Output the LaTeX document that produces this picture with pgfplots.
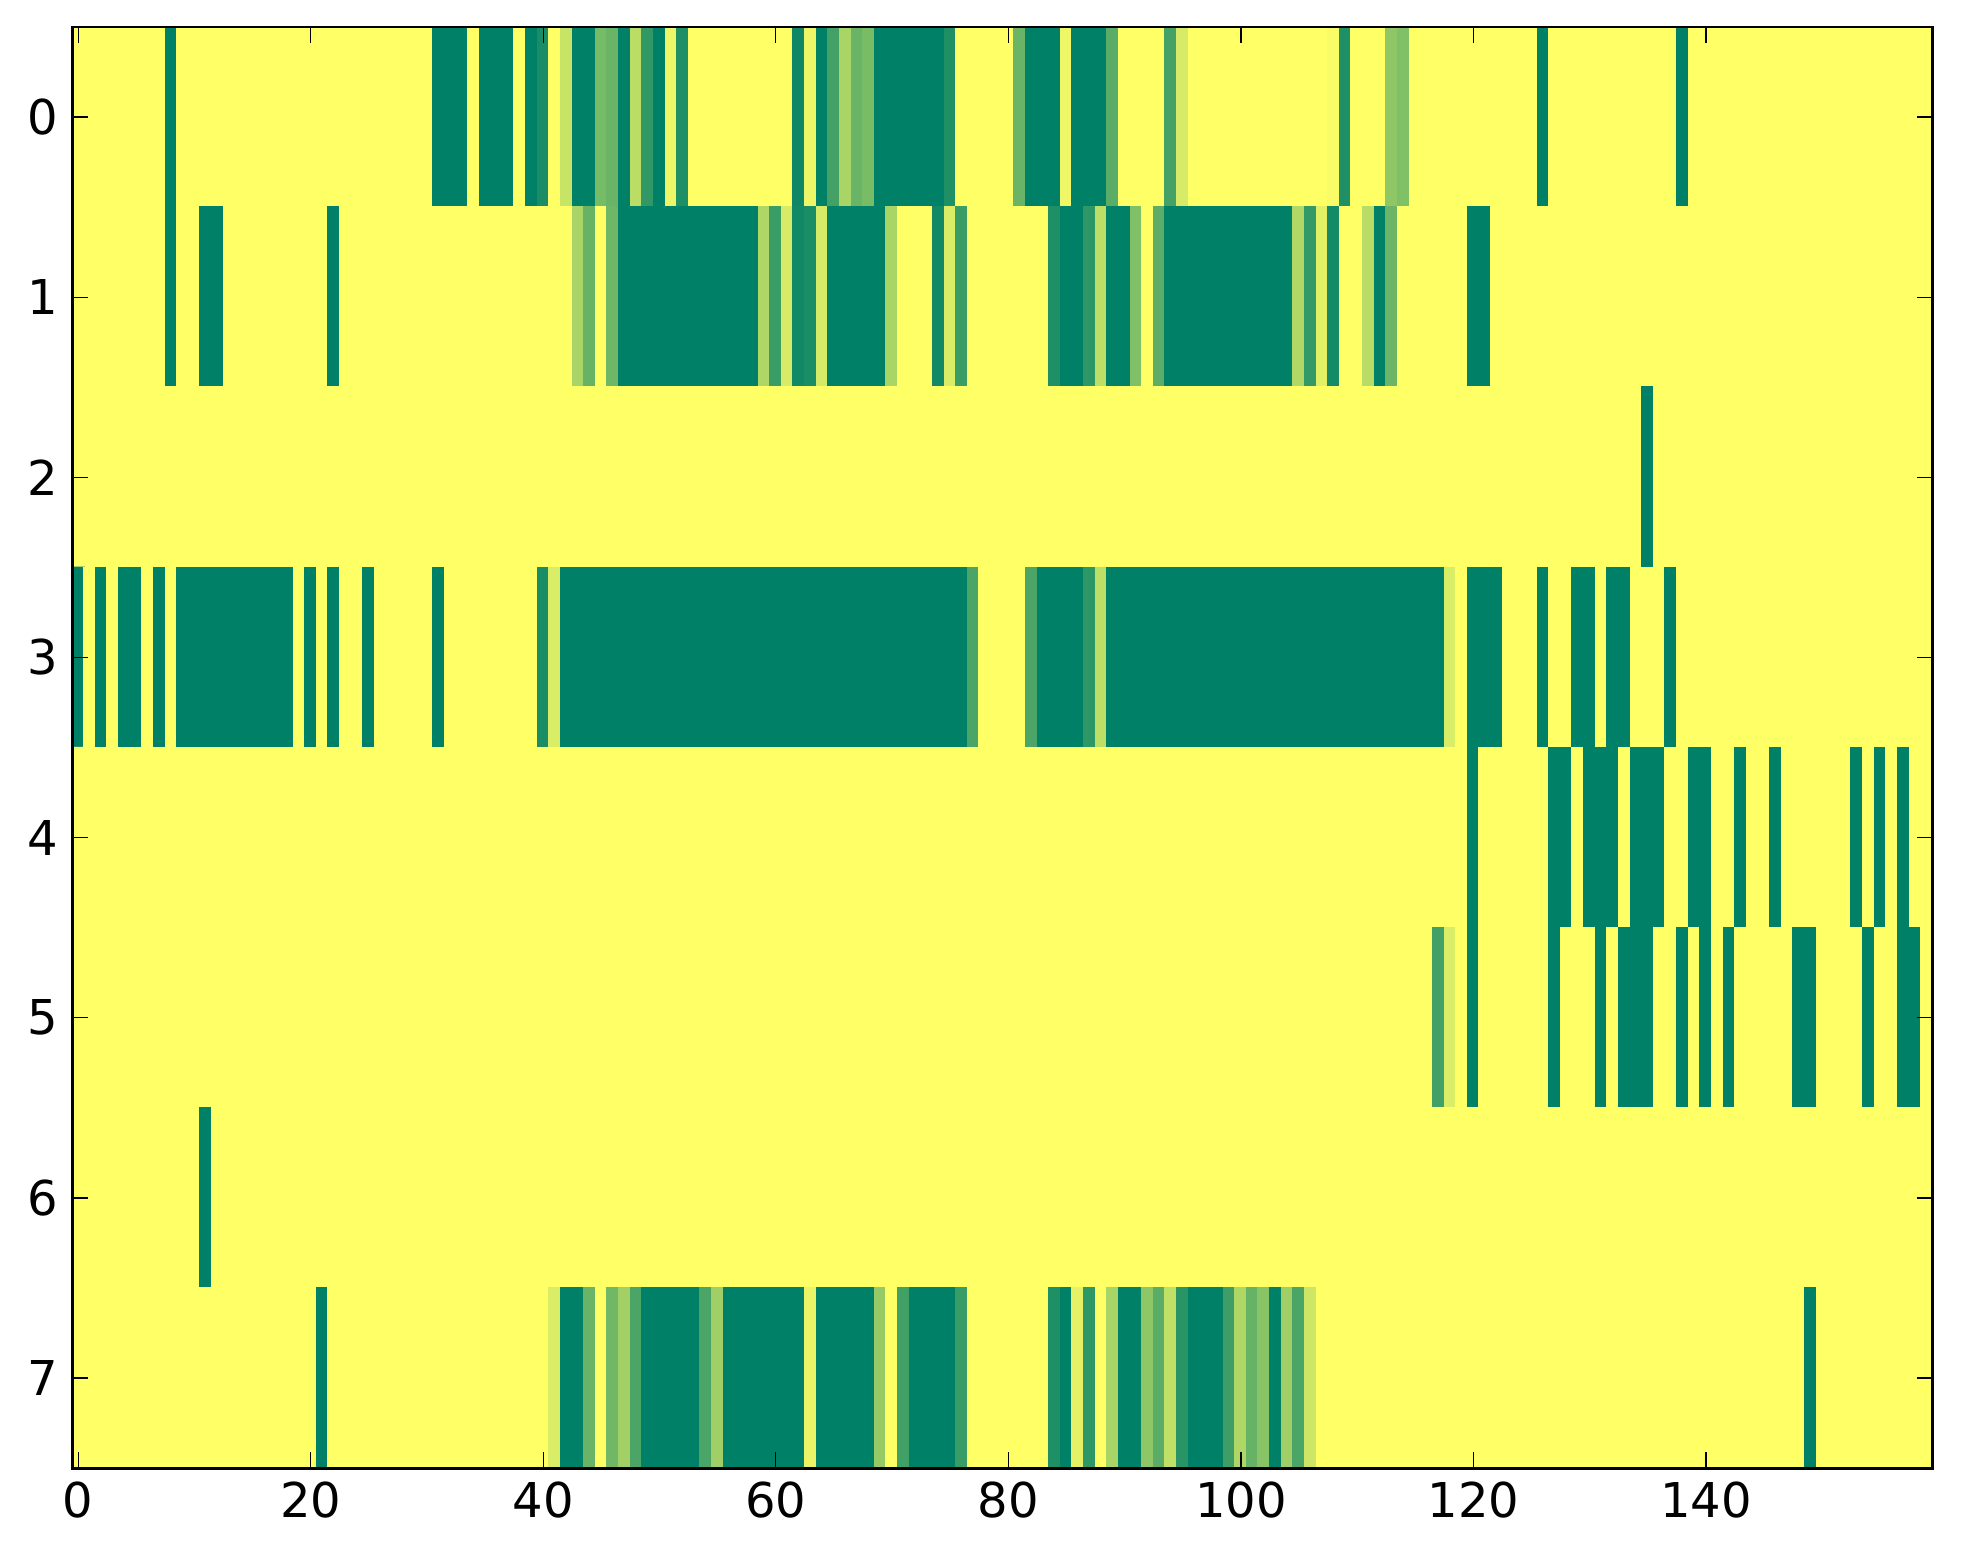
\documentclass[border=0pt]{standalone}
\usepackage{fontspec}
\setmainfont{DejaVu Sans}
\usepackage{pgfplots}
\pgfplotsset{compat=1.18}
\begin{document}
\begin{tikzpicture}
\begin{axis}[
  scale only axis, width=465pt, height=360.25pt,
  xmin=-0.5, xmax=159.5, ymin=-0.5, ymax=7.5, y dir=reverse,
  xtick={0,20,...,140}, ytick={0,...,7},
  tick align=inside, tick pos=both,
  major tick length=4pt,
  every tick/.style={black, line width=0.35pt},
  axis line style={line width=0.7pt},
  ticklabel style={font=\fontsize{12}{14}\selectfont},
  /pgf/number format/assume math mode=true,
  colormap={summer}{rgb=(0,0.5,0.4) rgb=(1,1,0.4)},
  point meta min=0, point meta max=1,
  axis on top,
]
\addplot[matrix plot*, mesh/cols=160, mesh/rows=8, point meta=explicit, empty line=none]
 table[row sep=\\, header=false, x expr={mod(\coordindex,160)}, y expr={floor((\coordindex+0.5)/160)}, meta index=0] {
1\\1\\1\\1\\1\\1\\1\\1\\0\\1\\ 1\\1\\1\\1\\1\\1\\1\\1\\1\\1\\ 1\\1\\1\\1\\1\\1\\1\\1\\1\\1\\ 1\\0\\0\\0\\1\\0\\0\\0\\1\\0\\
0.1\\1\\0.78\\0\\0\\0.46\\0.41\\0\\0.73\\0.19\\ 0\\0.92\\0.12\\1\\1\\1\\1\\1\\1\\1\\ 1\\1\\0.06\\0.92\\0\\0.26\\0.66\\0.41\\0.47\\0\\ 0\\0\\0\\0\\0\\0.12\\1\\1\\1\\1\\
1\\0.41\\0\\0\\0\\0.93\\0\\0\\0\\0.35\\ 1\\1\\1\\1\\0.27\\0.84\\1\\1\\1\\1\\ 1\\1\\1\\1\\1\\1\\1\\1\\0.97\\0.12\\ 1\\1\\1\\0.56\\0.5\\1\\1\\1\\1\\1\\
1\\1\\1\\1\\1\\1\\0\\1\\1\\1\\ 1\\1\\1\\1\\1\\1\\1\\1\\0\\1\\ 1\\1\\1\\1\\1\\1\\1\\1\\1\\1\\ 1\\1\\1\\1\\1\\1\\1\\1\\1\\1\\
1\\1\\1\\1\\1\\1\\1\\1\\0\\1\\ 1\\0\\0\\1\\1\\1\\1\\1\\1\\1\\ 1\\1\\0\\1\\1\\1\\1\\1\\1\\1\\ 1\\1\\1\\1\\1\\1\\1\\1\\1\\1\\
1\\1\\1\\0.66\\0.4\\1\\0.43\\0\\0\\0\\ 0\\0\\0\\0\\0\\0\\0\\0\\0\\0.68\\ 0.23\\0.84\\0.07\\0.1\\0.83\\0\\0\\0\\0\\0\\ 0.66\\1\\1\\1\\0.07\\0.85\\0.23\\1\\1\\1\\
1\\1\\1\\1\\0.12\\0\\0\\0.18\\0.74\\0\\ 0\\0.5\\1\\0.36\\0\\0\\0\\0\\0\\0\\ 0\\0\\0\\0\\0\\0.69\\0.2\\0.88\\0.08\\1\\ 1\\0.72\\0\\0.42\\1\\1\\1\\1\\1\\1\\
0\\0\\1\\1\\1\\1\\1\\1\\1\\1\\ 1\\1\\1\\1\\1\\1\\1\\1\\1\\1\\ 1\\1\\1\\1\\1\\1\\1\\1\\1\\1\\ 1\\1\\1\\1\\1\\1\\1\\1\\1\\1\\
1\\1\\1\\1\\1\\1\\1\\1\\1\\1\\ 1\\1\\1\\1\\1\\1\\1\\1\\1\\1\\ 1\\1\\1\\1\\1\\1\\1\\1\\1\\1\\ 1\\1\\1\\1\\1\\1\\1\\1\\1\\1\\
1\\1\\1\\1\\1\\1\\1\\1\\1\\1\\ 1\\1\\1\\1\\1\\1\\1\\1\\1\\1\\ 1\\1\\1\\1\\1\\1\\1\\1\\1\\1\\ 1\\1\\1\\1\\1\\1\\1\\1\\1\\1\\
1\\1\\1\\1\\1\\1\\1\\1\\1\\1\\ 1\\1\\1\\1\\1\\1\\1\\1\\1\\1\\ 1\\1\\1\\1\\1\\1\\1\\1\\1\\1\\ 1\\1\\1\\1\\1\\1\\1\\1\\1\\1\\
1\\1\\1\\1\\1\\1\\1\\1\\1\\1\\ 1\\1\\1\\1\\1\\0\\1\\1\\1\\1\\ 1\\1\\1\\1\\1\\1\\1\\1\\1\\1\\ 1\\1\\1\\1\\1\\1\\1\\1\\1\\1\\
0\\1\\0\\1\\0\\0\\1\\0\\1\\0\\ 0\\0\\0\\0\\0\\0\\0\\0\\0\\1\\ 0\\1\\0\\1\\1\\0\\1\\1\\1\\1\\ 1\\0\\1\\1\\1\\1\\1\\1\\1\\1\\
0.1\\0.85\\0\\0\\0\\0\\0\\0\\0\\0\\ 0\\0\\0\\0\\0\\0\\0\\0\\0\\0\\ 0\\0\\0\\0\\0\\0\\0\\0\\0\\0\\ 0\\0\\0\\0\\0\\0\\0\\0.29\\1\\1\\
1\\1\\0.29\\0\\0\\0\\0\\0.18\\0.74\\0\\ 0\\0\\0\\0\\0\\0\\0\\0\\0\\0\\ 0\\0\\0\\0\\0\\0\\0\\0\\0\\0\\ 0\\0\\0\\0\\0\\0\\0\\0\\0.85\\1\\
0\\0\\0\\1\\1\\1\\0\\1\\1\\0\\ 0\\1\\0\\0\\1\\1\\1\\0\\1\\1\\ 1\\1\\1\\1\\1\\1\\1\\1\\1\\1\\ 1\\1\\1\\1\\1\\1\\1\\1\\1\\1\\
1\\1\\1\\1\\1\\1\\1\\1\\1\\1\\ 1\\1\\1\\1\\1\\1\\1\\1\\1\\1\\ 1\\1\\1\\1\\1\\1\\1\\1\\1\\1\\ 1\\1\\1\\1\\1\\1\\1\\1\\1\\1\\
1\\1\\1\\1\\1\\1\\1\\1\\1\\1\\ 1\\1\\1\\1\\1\\1\\1\\1\\1\\1\\ 1\\1\\1\\1\\1\\1\\1\\1\\1\\1\\ 1\\1\\1\\1\\1\\1\\1\\1\\1\\1\\
1\\1\\1\\1\\1\\1\\1\\1\\1\\1\\ 1\\1\\1\\1\\1\\1\\1\\1\\1\\1\\ 1\\1\\1\\1\\1\\1\\1\\1\\1\\1\\ 1\\1\\1\\1\\1\\1\\1\\1\\1\\1\\
0\\1\\1\\1\\1\\1\\1\\0\\0\\1\\ 0\\0\\0\\1\\0\\0\\0\\1\\1\\0\\ 0\\1\\1\\0\\1\\1\\0\\1\\1\\1\\ 1\\1\\1\\0\\1\\0\\1\\0\\1\\1\\
1\\1\\1\\1\\1\\1\\1\\1\\1\\1\\ 1\\1\\1\\1\\1\\1\\1\\1\\1\\1\\ 1\\1\\1\\1\\1\\1\\1\\1\\1\\1\\ 1\\1\\1\\1\\1\\1\\1\\1\\1\\1\\
1\\1\\1\\1\\1\\1\\1\\1\\1\\1\\ 1\\1\\1\\1\\1\\1\\1\\1\\1\\1\\ 1\\1\\1\\1\\1\\1\\1\\1\\1\\1\\ 1\\1\\1\\1\\1\\1\\1\\1\\1\\1\\
1\\1\\1\\1\\1\\1\\1\\1\\1\\1\\ 1\\1\\1\\1\\1\\1\\1\\1\\1\\1\\ 1\\1\\1\\1\\1\\1\\1\\1\\1\\1\\ 1\\1\\1\\1\\1\\1\\1\\0.25\\0.85\\1\\
0\\1\\1\\1\\1\\1\\1\\0\\1\\1\\ 1\\0\\1\\0\\0\\0\\1\\1\\0\\1\\ 0\\1\\0\\1\\1\\1\\1\\1\\0\\0\\ 1\\1\\1\\1\\0\\1\\1\\0\\0\\1\\
1\\1\\1\\1\\1\\1\\1\\1\\1\\1\\ 1\\0\\1\\1\\1\\1\\1\\1\\1\\1\\ 1\\1\\1\\1\\1\\1\\1\\1\\1\\1\\ 1\\1\\1\\1\\1\\1\\1\\1\\1\\1\\
1\\1\\1\\1\\1\\1\\1\\1\\1\\1\\ 1\\1\\1\\1\\1\\1\\1\\1\\1\\1\\ 1\\1\\1\\1\\1\\1\\1\\1\\1\\1\\ 1\\1\\1\\1\\1\\1\\1\\1\\1\\1\\
1\\1\\1\\1\\1\\1\\1\\1\\1\\1\\ 1\\1\\1\\1\\1\\1\\1\\1\\1\\1\\ 1\\1\\1\\1\\1\\1\\1\\1\\1\\1\\ 1\\1\\1\\1\\1\\1\\1\\1\\1\\1\\
1\\1\\1\\1\\1\\1\\1\\1\\1\\1\\ 1\\1\\1\\1\\1\\1\\1\\1\\1\\1\\ 1\\1\\1\\1\\1\\1\\1\\1\\1\\1\\ 1\\1\\1\\1\\1\\1\\1\\1\\1\\1\\
1\\1\\1\\1\\1\\1\\1\\1\\1\\1\\ 1\\1\\1\\1\\1\\1\\1\\1\\1\\1\\ 1\\0\\1\\1\\1\\1\\1\\1\\1\\1\\ 1\\1\\1\\1\\1\\1\\1\\1\\1\\1\\
1\\0.85\\0\\0\\0.41\\1\\0.44\\0.63\\0.29\\0\\ 0\\0\\0\\0\\0.29\\0.62\\0\\0\\0\\0\\ 0\\0\\0\\0.91\\0\\0\\0\\0\\0\\0.58\\ 1\\0.25\\0\\0\\0\\0\\0.22\\1\\1\\1\\
1\\1\\1\\1\\0.12\\0\\0.89\\0.18\\1\\0.66\\ 0\\0\\0.56\\0.35\\0.75\\0.16\\0\\0\\0\\0.24\\ 0.68\\0.4\\0.53\\0\\0.62\\0.29\\0.8\\1\\1\\1\\ 1\\1\\1\\1\\1\\1\\1\\1\\1\\1\\
1\\1\\1\\1\\1\\1\\1\\1\\1\\1\\ 1\\1\\1\\1\\1\\1\\1\\1\\1\\1\\ 1\\1\\1\\1\\1\\1\\1\\1\\1\\0\\ 1\\1\\1\\1\\1\\1\\1\\1\\1\\1\\
};
\end{axis}
\path ([xshift=-18.1pt,yshift=-24pt]current axis.south west) rectangle ([xshift=7.6pt,yshift=6.75pt]current axis.north east);
\end{tikzpicture}
\end{document}
